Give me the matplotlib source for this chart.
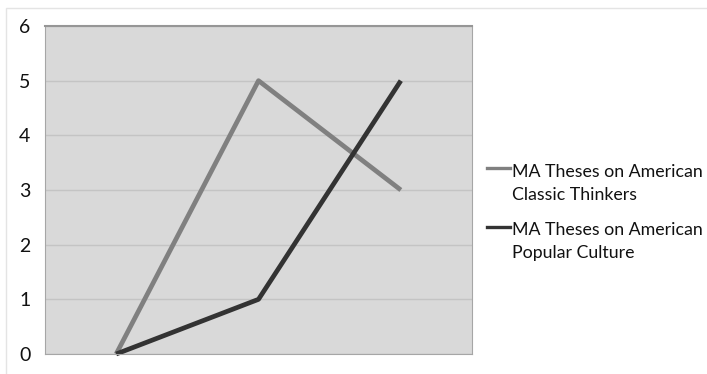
import matplotlib
matplotlib.use("Agg")
import matplotlib.pyplot as plt
from matplotlib.lines import Line2D

categories = ["1", "2", "3"]
classic_thinkers = [0, 5, 3]
popular_culture = [0, 1, 5]
series_names = [["MA Theses on American", "Classic Thinkers"],
                ["MA Theses on American", "Popular Culture"]]
series_colors = ["#808080", "#333333"]
y_ticks = [0, 1, 2, 3, 4, 5, 6]

plt.rcParams['font.family'] = ['Lato', 'DejaVu Sans']

fig = plt.figure(figsize=(7.07, 3.74), dpi=100)
W, H = 707, 374
ax = fig.add_axes([45 / W, 1 - 354 / H, (472 - 45) / W, (354 - 26) / H])
ax.set_facecolor("#d9d9d9")

x = list(range(len(categories)))
for values, color in zip([classic_thinkers, popular_culture], series_colors):
    ax.plot(x, values, color=color, lw=3.4, solid_capstyle="butt",
            clip_on=False)

ax.set_xlim(-0.5, len(categories) - 0.5)
ax.set_ylim(0, 6)
ax.set_yticks(y_ticks)
ax.set_yticklabels([str(v) for v in y_ticks], fontsize=14, color="#111111")
ax.set_xticks([])
ax.tick_params(axis="y", length=0, pad=10.5)
ax.grid(axis="y", color="#c4c4c4", lw=1)
ax.set_axisbelow(True)
for side in ["left", "right", "bottom"]:
    ax.spines[side].set_color("#a6a6a6")
    ax.spines[side].set_linewidth(0.8)
ax.spines["top"].set_color("#969696")
ax.spines["top"].set_linewidth(1.5)

# outer chart frame
fig.add_artist(plt.Rectangle((6 / W, -0.1), 1.0, 1 - 8 / H + 0.1,
                             transform=fig.transFigure, fill=False,
                             edgecolor="#e4e4e4", lw=1))

# legend: short line sample beside the first line of each two-line label
legend_rows = [(168, 177), (227, 235)]
line_step = 23
for lines, color, (y_line, y_base) in zip(series_names, series_colors, legend_rows):
    fig.add_artist(Line2D([487 / W, 510 / W], [1 - y_line / H] * 2,
                          transform=fig.transFigure, color=color, lw=2.4))
    for i, line in enumerate(lines):
        fig.text(512 / W, 1 - (y_base + i * line_step) / H, line,
                 fontsize=12.8, ha="left", va="baseline", color="#111111")

fig.savefig("out.png", dpi=100)
